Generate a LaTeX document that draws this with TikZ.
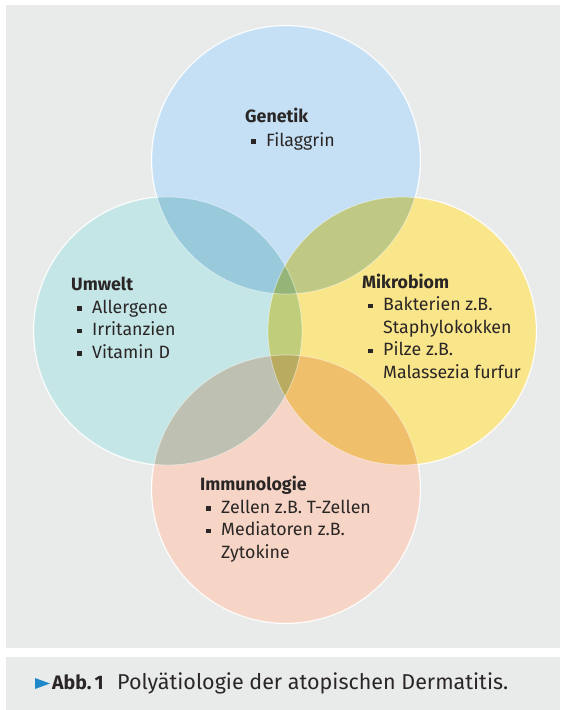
\documentclass[tikz,border=0pt]{standalone}
\usepackage{fontspec}
\setmainfont{Fira Sans}
\definecolor{panelgrey}{HTML}{E9EAEA}
\definecolor{genblue}{HTML}{C5E0F5}
\definecolor{umteal}{HTML}{C5E6E6}
\definecolor{mikyellow}{HTML}{F9E58A}
\definecolor{immpink}{HTML}{F6D5C6}
\definecolor{captblue}{HTML}{1E88C8}
\definecolor{txtdark}{HTML}{2A2626}
\newcommand{\blt}{\hspace*{6pt}\rule[2.5pt]{4.5pt}{4.5pt}\hspace{10.5pt}}
\newcommand{\ind}{\hspace*{21pt}}
\begin{document}
\begin{tikzpicture}[x=1pt,y=-1pt,
  lbl/.style={anchor=base west,align=left,inner sep=0pt,
    font=\fontsize{17.8}{22.5}\selectfont,text=txtdark}]
\useasboundingbox (0,0) rectangle (560,710);
\fill[panelgrey] (6,5) rectangle (560,648);
\fill[panelgrey] (6,657) rectangle (560,710);
% circle centres
\coordinate (gen) at (286,160);
\coordinate (umw) at (168,331);
\coordinate (mik) at (402,331);
\coordinate (imm) at (286,489);
\foreach \c in {gen,umw,mik,imm}
  \filldraw[white,line width=2pt] (\c) circle[radius=134pt];
\begin{scope}[blend mode=multiply]
\fill[genblue] (gen) circle[radius=134pt];
\fill[umteal] (umw) circle[radius=134pt];
\fill[mikyellow] (mik) circle[radius=134pt];
\fill[immpink] (imm) circle[radius=134pt];
\end{scope}
\foreach \c in {gen,umw,mik,imm}
  \draw[white,draw opacity=.45,line width=.8pt] (\c) circle[radius=134pt];
% labels (base = last line)
\node[lbl] (tgen) at (245,146) {\textbf{Genetik}\\[1.5pt] \blt Filaggrin};
\node[lbl] (tumw) at (71,358) {\textbf{Umwelt}\\ \blt Allergene\\ \blt Irritanzien\\ \blt Vitamin D};
\node[lbl] (tmik) at (362,378) {\textbf{Mikrobiom}\\ \blt Bakterien z.B.\\ \ind Staphylokokken\\
  \blt Pilze z.B.\\ \ind Malassezia furfur};
\node[lbl] (timm) at (200,558) {\textbf{Immunologie}\\ \blt Zellen z.B. T-Zellen\\
  \blt Mediatoren z.B.\\ \ind Zytokine};
% caption
\fill[captblue] (35,678)--(50,683.5)--(35,689)--cycle;
\node[lbl,font=\fontsize{19.5}{22}\selectfont\bfseries] (abb) at (52,689) {Abb.\,1};
\node[lbl,font=\fontsize{21.5}{22}\selectfont] (capt) at (117,689) {Polyätiologie der atopischen Dermatitis.};
\end{tikzpicture}
\end{document}
